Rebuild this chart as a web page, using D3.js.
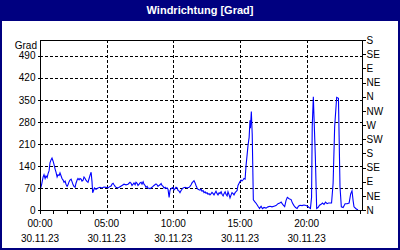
<!DOCTYPE html>
<html>
<head>
<meta charset="utf-8">
<script src="https://cdn.jsdelivr.net/npm/d3@7"></script>
<style>
  body { margin: 0; background: #fff; }
  svg { display: block; font-family: "Liberation Sans", Arial, sans-serif; }
</style>
</head>
<body>
<svg id="chart" width="400" height="250"></svg>
<script>
// minutes since 30.11.23 00:00
const minutes = [2, 7, 14, 18, 23, 27, 32, 36, 41, 45, 50, 54, 59, 63, 68, 72, 77, 81, 86, 90,
  95, 99, 104, 108, 113, 117, 122, 126, 131, 135, 140, 144, 149, 153, 158, 162, 167, 171, 176, 180,
  185, 189, 194, 198, 203, 207, 212, 216, 221, 225, 230, 234, 237, 241, 245, 252, 261, 270, 279, 288,
  297, 306, 315, 320, 324, 329, 333, 338, 342, 351, 360, 369, 378, 387, 396, 405, 410, 414, 419, 423,
  428, 432, 437, 441, 446, 450, 455, 459, 464, 468, 473, 477, 482, 486, 495, 504, 513, 522, 527, 531,
  536, 540, 545, 549, 554, 558, 563, 567, 572, 576, 581, 585, 590, 594, 599, 603, 608, 612, 617, 621,
  626, 630, 635, 639, 644, 653, 662, 671, 675, 680, 684, 689, 693, 698, 702, 707, 711, 720, 725, 729,
  734, 738, 743, 747, 752, 756, 761, 765, 770, 774, 779, 783, 788, 792, 797, 801, 806, 810, 815, 819,
  824, 828, 833, 837, 842, 846, 851, 855, 860, 864, 869, 873, 878, 882, 887, 891, 896, 900, 905, 909,
  914, 918, 923, 927, 932, 936, 941, 945, 947, 951, 955, 960, 968, 974, 981, 988, 995, 1001, 1008, 1017,
  1026, 1035, 1044, 1053, 1062, 1071, 1079, 1085, 1094, 1101, 1107, 1113, 1121, 1130, 1136, 1143, 1150, 1157, 1163, 1170,
  1179, 1188, 1197, 1204, 1211, 1217, 1222, 1225, 1230, 1233, 1239, 1245, 1251, 1258, 1265, 1271, 1278, 1285, 1292, 1298,
  1305, 1312, 1319, 1326, 1335, 1343, 1350, 1356, 1364, 1373, 1382, 1391, 1398, 1404, 1409, 1413, 1422, 1431];
const degrees = [67, 80, 105, 112, 100, 108, 103, 115, 125, 150, 160, 165, 155, 145, 130, 120, 105, 112, 110, 118,
  108, 100, 95, 88, 92, 82, 75, 80, 90, 95, 98, 90, 80, 75, 72, 85, 95, 100, 96, 100,
  98, 92, 95, 105, 100, 95, 90, 88, 100, 110, 120, 90, 55, 62, 70, 66, 70, 72, 70, 73,
  72, 70, 75, 76, 82, 85, 80, 75, 72, 70, 74, 78, 82, 80, 82, 88, 85, 78, 82, 86,
  80, 88, 85, 78, 82, 86, 88, 82, 90, 82, 78, 72, 75, 70, 68, 72, 78, 83, 80, 75,
  78, 80, 84, 78, 75, 70, 72, 68, 70, 66, 40, 62, 68, 70, 72, 64, 68, 72, 70, 62,
  60, 55, 62, 66, 70, 72, 70, 72, 75, 80, 86, 90, 93, 86, 78, 70, 66, 63, 66, 60,
  62, 55, 58, 53, 55, 50, 52, 48, 52, 56, 52, 48, 55, 60, 52, 48, 55, 52, 58, 50,
  45, 52, 58, 50, 45, 58, 48, 38, 48, 55, 52, 48, 55, 58, 62, 78, 85, 90, 95, 92,
  96, 100, 98, 140, 175, 205, 230, 285, 260, 313, 240, 32, 25, 20, 12, 5, 12, 4, 8, 6,
  10, 12, 10, 12, 14, 20, 22, 25, 16, 11, 30, 40, 36, 33, 22, 14, 8, 5, 12, 15,
  14, 16, 14, 12, 8, 5, 40, 265, 360, 297, 170, 5, 8, 15, 18, 22, 18, 25, 20, 22,
  22, 22, 85, 265, 358, 355, 74, 10, 8, 20, 20, 22, 51, 61, 30, 10, 4, 0];

const gradTicks = [0, 70, 140, 210, 280, 350, 420, 490];
const compassTicks = [0, 45, 90, 135, 180, 225, 270, 315, 360, 405, 450, 495, 540];
const compassLabels = ['N', 'NE', 'E', 'SE', 'S', 'SW', 'W', 'NW', 'N', 'NE', 'E', 'SE', 'S'];
const title = 'Windrichtung [Grad]';
const unitLabel = 'Grad';

const day = new Date(2023, 10, 30, 0, 0);
const toDate = m => new Date(day.getTime() + m * 60000);
const data = minutes.map((m, i) => ({t: toDate(m), v: degrees[i]}));

const svg = d3.select('#chart');
const W = 400, H = 250;
const plot = {left: 40, right: 362, top: 40, bottom: 210};
const navy = '#000080';

// frame + title bar
svg.append('rect').attr('width', W).attr('height', H).attr('fill', navy);
svg.append('rect').attr('x', 2).attr('y', 21).attr('width', W - 4).attr('height', H - 23).attr('fill', '#fff');
svg.append('text')
  .attr('x', W / 2).attr('y', 14)
  .attr('text-anchor', 'middle')
  .attr('fill', '#fff')
  .attr('font-weight', 'bold')
  .attr('font-size', 11)
  .text(title);

const x = d3.scaleTime().domain([day, toDate(1449)]).range([plot.left, plot.right]);
const y = d3.scaleLinear().domain([0, 540]).range([plot.bottom, plot.top]);

// grid
const grid = svg.append('g')
  .attr('stroke', '#000')
  .attr('stroke-dasharray', '3,2')
  .attr('shape-rendering', 'crispEdges');
grid.selectAll('line.h')
  .data(gradTicks.filter(d => d > 0))
  .join('line')
  .attr('x1', plot.left).attr('x2', plot.right)
  .attr('y1', d => Math.round(y(d)) + 0.5).attr('y2', d => Math.round(y(d)) + 0.5);
grid.selectAll('line.v')
  .data([5, 10, 15, 20].map(h => toDate(h * 60)))
  .join('line')
  .attr('x1', d => Math.round(x(d)) + 0.5).attr('x2', d => Math.round(x(d)) + 0.5)
  .attr('y1', plot.top).attr('y2', plot.bottom);

// series
svg.append('path')
  .datum(data)
  .attr('fill', 'none')
  .attr('stroke', '#0000ff')
  .attr('stroke-width', 1.1)
  .attr('d', d3.line().x(d => x(d.t)).y(d => y(d.v)));

// border
svg.append('rect')
  .attr('x', plot.left + 0.5).attr('y', plot.top + 0.5)
  .attr('width', plot.right - plot.left).attr('height', plot.bottom - plot.top)
  .attr('fill', 'none').attr('stroke', '#000')
  .attr('shape-rendering', 'crispEdges');

// left axis
const yAxis = svg.append('g')
  .attr('transform', `translate(${plot.left + 0.5},0)`)
  .call(d3.axisLeft(y).tickValues(gradTicks).tickSize(3).tickPadding(2));
yAxis.select('.domain').remove();

// right axis
const yAxisR = svg.append('g')
  .attr('transform', `translate(${plot.right + 0.5},0)`)
  .call(d3.axisRight(y).tickValues(compassTicks).tickSize(3).tickPadding(1)
    .tickFormat((d, i) => compassLabels[i]));
yAxisR.select('.domain').remove();

// bottom axis
const hourTicks = d3.range(0, 25).map(h => toDate(h * 60));
const xAxis = svg.append('g')
  .attr('transform', `translate(0,${plot.bottom + 0.5})`)
  .call(d3.axisBottom(x).tickValues(hourTicks).tickSize(3).tickFormat(''));
xAxis.select('.domain').remove();

const labelTicks = [0, 5, 10, 15, 20].map(h => toDate(h * 60));
const xl = svg.append('g').attr('font-size', 10).attr('fill', '#000').attr('text-anchor', 'middle');
xl.selectAll('text.t')
  .data(labelTicks)
  .join('text')
  .attr('x', d => x(d)).attr('y', 227)
  .text(d3.timeFormat('%H:%M'));
xl.selectAll('text.d')
  .data(labelTicks)
  .join('text')
  .attr('x', d => x(d)).attr('y', 242)
  .text(d3.timeFormat('%d.%m.%y'));

svg.selectAll('.tick text').attr('font-size', 10).attr('font-family', '"Liberation Sans", Arial, sans-serif').attr('fill', '#000');
svg.selectAll('.tick line').attr('shape-rendering', 'crispEdges');

svg.append('text')
  .attr('x', 37).attr('y', 49)
  .attr('text-anchor', 'end')
  .attr('font-size', 10)
  .text(unitLabel);
</script>
</body>
</html>
